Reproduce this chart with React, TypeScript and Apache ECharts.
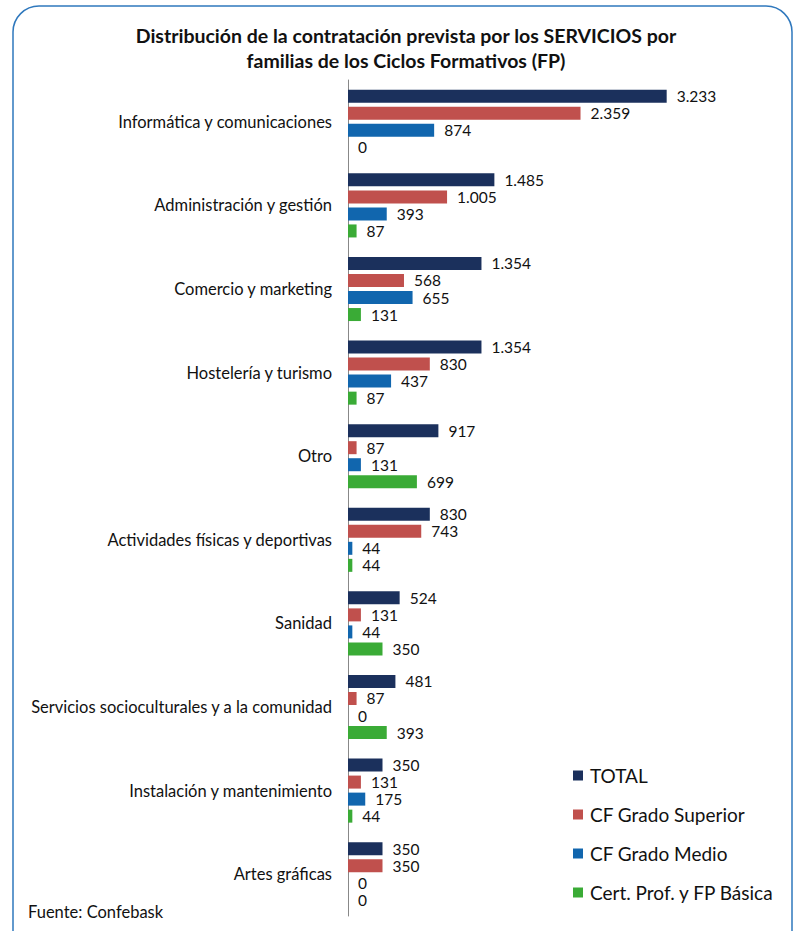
import React, { useEffect, useRef } from "react";
import * as echarts from "echarts";

const categories = [
  "Informática y comunicaciones",
  "Administración y gestión",
  "Comercio y marketing",
  "Hostelería y turismo",
  "Otro",
  "Actividades físicas y deportivas",
  "Sanidad",
  "Servicios socioculturales y a la comunidad",
  "Instalación y mantenimiento",
  "Artes gráficas",
];

const seriesNames = ["TOTAL", "CF Grado Superior", "CF Grado Medio", "Cert. Prof. y FP Básica"];

const total = [3233, 1485, 1354, 1354, 917, 830, 524, 481, 350, 350];
const gradoSuperior = [2359, 1005, 568, 830, 87, 743, 131, 87, 131, 350];
const gradoMedio = [874, 393, 655, 437, 131, 44, 44, 0, 175, 0];
const certProf = [0, 87, 131, 87, 699, 44, 350, 393, 44, 0];

const colors = ["#1b305c", "#c0504d", "#1166ae", "#3aab36"];

const FONT = "Lato";

function fmt(v: number): string {
  return String(v).replace(/\B(?=(\d{3})+(?!\d))/g, ".");
}

export default function App() {
  const ref = useRef<HTMLDivElement>(null);
  useEffect(() => {
    document.body.style.margin = "0";
    if (!ref.current) return;
    const chart = echarts.init(ref.current, undefined, { renderer: "svg" });
    const data = [total, gradoSuperior, gradoMedio, certProf];
    chart.setOption({
      animation: false,
      backgroundColor: "#ffffff",
      title: {
        text: "Distribución de la contratación prevista por los SERVICIOS por\nfamilias de los Ciclos Formativos (FP)",
        left: 401,
        textAlign: "center",
        top: 18,
        textStyle: {
          fontFamily: FONT,
          fontWeight: "bold",
          fontSize: 19.5,
          lineHeight: 25,
          color: "#111111",
        },
      },
      legend: {
        orient: "vertical",
        left: 568,
        top: 761,
        itemWidth: 10,
        itemHeight: 10,
        itemGap: 20,
        icon: "rect",
        textStyle: { fontFamily: FONT, fontSize: 19, color: "#111111", padding: [0, 0, 0, 2] },
        data: seriesNames,
      },
      graphic: [
        {
          type: "rect",
          shape: { x: 13, y: 6, width: 779, height: 980, r: 26 },
          style: { fill: "none", stroke: "#2f78bd", lineWidth: 1.5 },
          z: -1,
        },
        {
          type: "text",
          left: 28,
          top: 903,
          style: { text: "Fuente: Confebask", fontFamily: FONT, fontSize: 16.5, fill: "#111111" },
        },
      ],
      grid: { left: 348, top: 80, width: 345, height: 836 },
      xAxis: {
        type: "value",
        min: 0,
        max: 3500,
        show: false,
      },
      yAxis: {
        type: "category",
        data: categories,
        inverse: true,
        axisLine: { show: true, lineStyle: { color: "#888888", width: 1 } },
        axisTick: { show: false },
        axisLabel: {
          margin: 16,
          fontFamily: FONT,
          fontSize: 16.5,
          color: "#111111",
        },
      },
      series: seriesNames.map((name, i) => ({
        name,
        type: "bar",
        data: data[i],
        barWidth: 13,
        barGap: "31%",
        itemStyle: { color: colors[i] },
        label: {
          show: true,
          position: "right",
          distance: 10,
          fontFamily: FONT,
          fontSize: 15.5,
          lineHeight: 15,
          color: "#111111",
          formatter: (p: any) => fmt(p.value),
        },
      })),
    });
    return () => chart.dispose();
  }, []);
  return <div ref={ref} style={{ width: 795, height: 931 }} />;
}
